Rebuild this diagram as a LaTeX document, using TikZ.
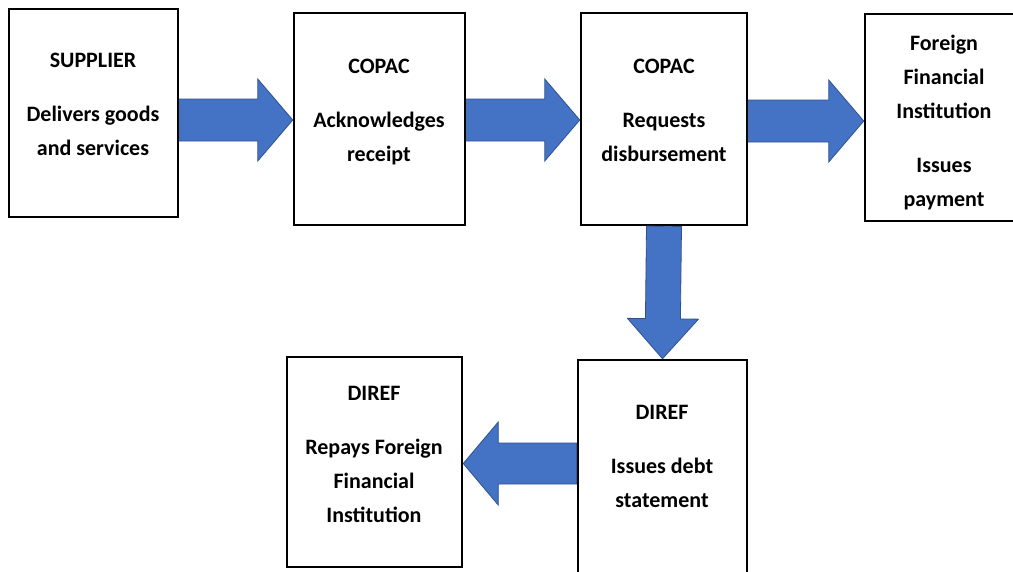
\documentclass[tikz,border=0pt]{standalone}
\usepackage{fontspec}
\setmainfont{Carlito}
\usetikzlibrary{calc}
\definecolor{arrfill}{HTML}{4472C4}
\definecolor{arrline}{HTML}{2F528F}
\tikzset{
  shaftw/.store in=\ashaft, headw/.store in=\ahead, headl/.store in=\aheadl,
  shaftw=21pt, headw=41pt, headl=35pt,
  box/.style={draw=black, line width=2.5pt, inner sep=0pt},
  txt/.style={align=center, inner sep=0pt, font=\fontsize{22}{34}\selectfont\bfseries},
  blockarrow/.style={draw=arrline, fill=arrfill, line width=0.8pt, line join=miter,
    to path={
      ($(\tikztostart)!\ashaft!90:(\tikztotarget)$)
      -- ($($(\tikztotarget)!\aheadl!(\tikztostart)$)!\ashaft!90:(\tikztotarget)$)
      -- ($($(\tikztotarget)!\aheadl!(\tikztostart)$)!\ahead!90:(\tikztotarget)$)
      -- (\tikztotarget)
      -- ($($(\tikztotarget)!\aheadl!(\tikztostart)$)!\ahead!-90:(\tikztotarget)$)
      -- ($($(\tikztotarget)!\aheadl!(\tikztostart)$)!\ashaft!-90:(\tikztotarget)$)
      -- ($(\tikztostart)!\ashaft!-90:(\tikztotarget)$)
      -- cycle}}
}
\begin{document}
\begin{tikzpicture}[x=1pt, y=-1pt]
\useasboundingbox (0,0) rectangle (1013,571);
% boxes
\node[box, minimum width=169pt, minimum height=208pt] (b1) at (93.5,113) {};
\node[box, minimum width=171pt, minimum height=212pt] (b2) at (379.5,119) {};
\node[box, minimum width=166pt, minimum height=212pt] (b3) at (664,119) {};
\node[box, minimum width=158pt, minimum height=207pt] (b4) at (944,117.5) {};
\node[box, minimum width=169pt, minimum height=213pt] (b5) at (662.5,466.5) {};
\node[box, minimum width=175pt, minimum height=210pt] (b6) at (374.5,462) {};
% texts
\node[txt] (t1) at (93,104) {SUPPLIER\\[20pt]Delivers goods\\and services};
\node[txt] (t2) at (379,112.5) {COPAC\\[20pt]Acknowledges\\receipt};
\node[txt] (t3) at (664,110.5) {COPAC\\[20pt]Requests\\disbursement};
\node[txt] (t4) at (944,122.5) {Foreign\\Financial\\Institution\\[20pt]Issues\\payment};
\node[txt] (t5) at (662,456.5) {DIREF\\[20pt]Issues debt\\statement};
\node[txt] (t6) at (374,454) {DIREF\\[20pt]Repays Foreign\\Financial\\Institution};
% arrow rows
\coordinate (y1) at (0,120);
\coordinate (y2) at (0,120);
\coordinate (y3) at (0,121);
\coordinate (y4) at (0,463.5);
\draw[blockarrow] (b1.east |- y1) to (b2.west |- y1);
\draw[blockarrow] (b2.east |- y2) to (b3.west |- y2);
\draw[blockarrow] (b3.east |- y3) to (b4.west |- y3);
\draw[blockarrow, shaftw=17.5pt, headw=35.5pt, headl=40pt] (b3.south) to (b5.north);
\draw[blockarrow, shaftw=20.5pt, headw=41.5pt, headl=35pt] (b5.west |- y4) to (b6.east |- y4);
\end{tikzpicture}
\end{document}
